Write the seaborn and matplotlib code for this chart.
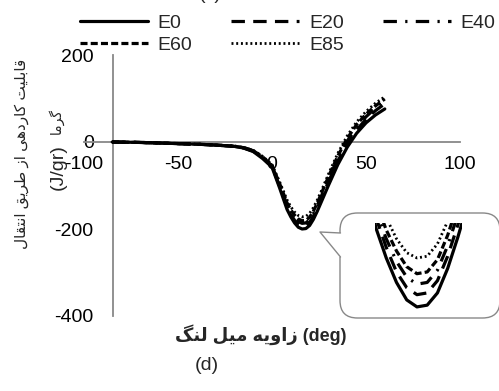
import numpy as np
import pandas as pd
import matplotlib
matplotlib.use("Agg")
import matplotlib.pyplot as plt
from matplotlib.patches import FancyBboxPatch, Polygon
from matplotlib.lines import Line2D
import seaborn as sns

# ---------------- data ----------------
angle = [-85, -70, -55, -40, -30, -20, -15, -10, -5, 0, 4, 8, 10, 12, 14, 16, 18,
         20, 22, 24, 26, 30, 35, 40, 45, 50, 55, 60]
E0 = [0, -1, -3, -5, -7, -10, -14, -22, -38, -58, -105, -155, -172, -186, -196, -200, -199,
      -192, -178, -160, -140, -100, -52, -12, 20, 44, 62, 76]
E20 = [0, -1, -3, -5, -7, -10, -14, -21, -36, -56, -101, -149, -166, -180, -189, -193, -192,
       -185, -171, -153, -133, -92, -44, -4, 28, 52, 72, 88]
E40 = [0, -1, -3, -5, -7, -10, -13, -20, -35, -55, -98, -145, -161, -174, -183, -187, -186,
       -179, -165, -147, -127, -86, -38, 2, 34, 58, 78, 94]
E60 = [0, -1, -3, -5, -7, -10, -13, -20, -34, -54, -95, -140, -156, -168, -177, -181, -180,
       -173, -159, -141, -121, -80, -32, 8, 40, 64, 83, 99]
E85 = [0, -1, -3, -5, -7, -9, -13, -19, -33, -52, -91, -133, -149, -161, -169, -172, -171,
       -164, -151, -134, -115, -74, -26, 14, 46, 70, 89, 104]
series_names = ["E0", "E20", "E40", "E60", "E85"]
x_ticks = [-100, -50, 0, 50, 100]
y_ticks = [-400, -200, 0, 200]

# ---------------- Persian shaping (visual order) ----------------
FORMS = {
    'ا': ('\uFE8D', '\uFE8E', None, None),
    'ب': ('\uFE8F', '\uFE90', '\uFE91', '\uFE92'),
    'ت': ('\uFE95', '\uFE96', '\uFE97', '\uFE98'),
    'د': ('\uFEA9', '\uFEAA', None, None),
    'ر': ('\uFEAD', '\uFEAE', None, None),
    'ز': ('\uFEAF', '\uFEB0', None, None),
    'ط': ('\uFEC1', '\uFEC2', '\uFEC3', '\uFEC4'),
    'ق': ('\uFED5', '\uFED6', '\uFED7', '\uFED8'),
    'ل': ('\uFEDD', '\uFEDE', '\uFEDF', '\uFEE0'),
    'م': ('\uFEE1', '\uFEE2', '\uFEE3', '\uFEE4'),
    'ن': ('\uFEE5', '\uFEE6', '\uFEE7', '\uFEE8'),
    'ه': ('\uFEE9', '\uFEEA', '\uFEEB', '\uFEEC'),
    'و': ('\uFEED', '\uFEEE', None, None),
    'ی': ('\uFBFC', '\uFBFD', '\uFBFE', '\uFBFF'),
    'ک': ('\uFB8E', '\uFB8F', '\uFB90', '\uFB91'),
    'گ': ('\uFB92', '\uFB93', '\uFB94', '\uFB95'),
}


def shape_word(w):
    out = []
    n = len(w)
    for i, ch in enumerate(w):
        f = FORMS[ch]
        jp = i > 0 and FORMS[w[i - 1]][2] is not None
        jn = i < n - 1 and f[2] is not None
        if jp and jn:
            g = f[3]
        elif jp:
            g = f[1]
        elif jn:
            g = f[2]
        else:
            g = f[0]
        out.append(g)
    return ''.join(reversed(out))


def fa(text):
    words = text.split(' ')
    return ' '.join(shape_word(w) for w in reversed(words))


# ---------------- figure ----------------
sns.set_theme(style="white")
plt.rcParams['font.family'] = ['Liberation Sans', 'DejaVu Sans']

W, H = 499, 391
fig = plt.figure(figsize=(W / 100, H / 100), dpi=100)


def fx(px):
    return px / W


def fy(py):
    return 1 - py / H


ax = fig.add_axes([fx(84), fy(316), fx(460) - fx(84), fy(55) - fy(316)])
ax.set_facecolor('white')

df = pd.DataFrame({"angle": angle * 5,
                   "value": E0 + E20 + E40 + E60 + E85,
                   "series": sum([[s] * len(angle) for s in series_names], [])})

styles = {
    "E0": dict(linestyle='-', lw=2.3),
    "E20": dict(linestyle=(0, (4.2, 2.6)), lw=2.3),
    "E40": dict(linestyle=(0, (4.2, 2.6, 0.7, 2.6)), lw=2.3),
    "E60": dict(linestyle=(0, (2.2, 1.0)), lw=2.3),
    "E85": dict(linestyle=(0, (0.7, 1.0)), lw=2.0),
}

for s in series_names[::-1]:
    sub = df[df.series == s]
    sns.lineplot(data=sub, x="angle", y="value", ax=ax, color='black',
                 label=s, zorder=3, **styles[s])

ax.set_xlim(-100, 100)
ax.set_ylim(-400, 200)
ax.set_xlabel('')
ax.set_ylabel('')
leg = ax.get_legend()
if leg:
    leg.remove()

gray = '#888888'
for side in ['top', 'right']:
    ax.spines[side].set_visible(False)
ax.spines['bottom'].set_position(('data', 0))
ax.spines['left'].set_position(('data', -84.5))
for side in ['bottom', 'left']:
    ax.spines[side].set_color(gray)
    ax.spines[side].set_linewidth(1.3)
    ax.spines[side].set_zorder(1)

ax.set_xticks(x_ticks)
ax.set_xticklabels([str(v) for v in x_ticks])
ax.set_yticks(y_ticks)
ax.set_yticklabels([str(v) for v in y_ticks])
ax.tick_params(axis='x', direction='in', length=5, width=1.2, color=gray,
               pad=10, labelsize=14, labelcolor='black')
ax.tick_params(axis='y', direction='in', length=5, width=1.2, color=gray,
               pad=14, labelsize=14, labelcolor='black')
ax.grid(False)

# legend
hmap = {}
for s in series_names:
    hmap[s] = Line2D([], [], color='black', **styles[s])
order = ["E0", "E60", "E20", "E85", "E40"]
fig.legend([hmap[s] for s in order], order, ncol=3, loc='upper left',
           bbox_to_anchor=(fx(80), fy(14)), frameon=False, borderpad=0,
           borderaxespad=0, handlelength=3.5, handletextpad=0.5,
           columnspacing=2.0, labelspacing=0.25, fontsize=14)

# fragment of the previous panel caption at the very top
fig.text(fx(210), fy(-1), "(c)", fontsize=14, ha='center', va='baseline')

# axis titles
fig.text(fx(22), fy(154), fa("قابلیت کاردهی از طریق انتقال"), rotation=90,
         fontsize=11, ha='center', va='center')
fig.text(fx(58), fy(167), "(J/gr)", rotation=90, fontsize=14,
         ha='center', va='center')
fig.text(fx(56), fy(121), fa("گرما"), rotation=90, fontsize=10,
         ha='center', va='center')
fig.text(fx(261), fy(335), fa("زاویه میل لنگ") + " (deg)", fontsize=13,
         fontweight='bold', ha='center', va='center')
fig.text(fx(207), fy(366), "(d)", fontsize=14, ha='center', va='center')

# callout with zoomed view
box = FancyBboxPatch((fx(340), fy(318)), fx(500) - fx(340), fy(213) - fy(318),
                     boxstyle="round,pad=0,rounding_size=0.035",
                     transform=fig.transFigure, facecolor='white',
                     edgecolor=gray, lw=1.0, zorder=5, mutation_aspect=W / H)
fig.patches.append(box)
cover = Polygon([(fx(338), fy(233)), (fx(343), fy(233)), (fx(343), fy(257)),
                 (fx(338), fy(257))], closed=True, transform=fig.transFigure,
                facecolor='white', edgecolor='none', zorder=6)
fig.patches.append(cover)
fig.lines.append(Line2D([fx(340.5), fx(320), fx(340.5)], [fy(233), fy(232), fy(257)],
                        transform=fig.transFigure, color=gray, lw=1.0, zorder=7))

axin = fig.add_axes([fx(375), fy(309), fx(462) - fx(375), fy(223) - fy(309)])
axin.set_zorder(10)
for s in series_names[::-1]:
    sub = df[df.series == s]
    sns.lineplot(data=sub, x="angle", y="value", ax=axin, color='black',
                 legend=False, **styles[s])
axin.set_xlim(7.8, 24.8)
axin.set_ylim(-201.2, -152)
axin.axis('off')

fig.savefig("out.png", dpi=100, facecolor='white')
